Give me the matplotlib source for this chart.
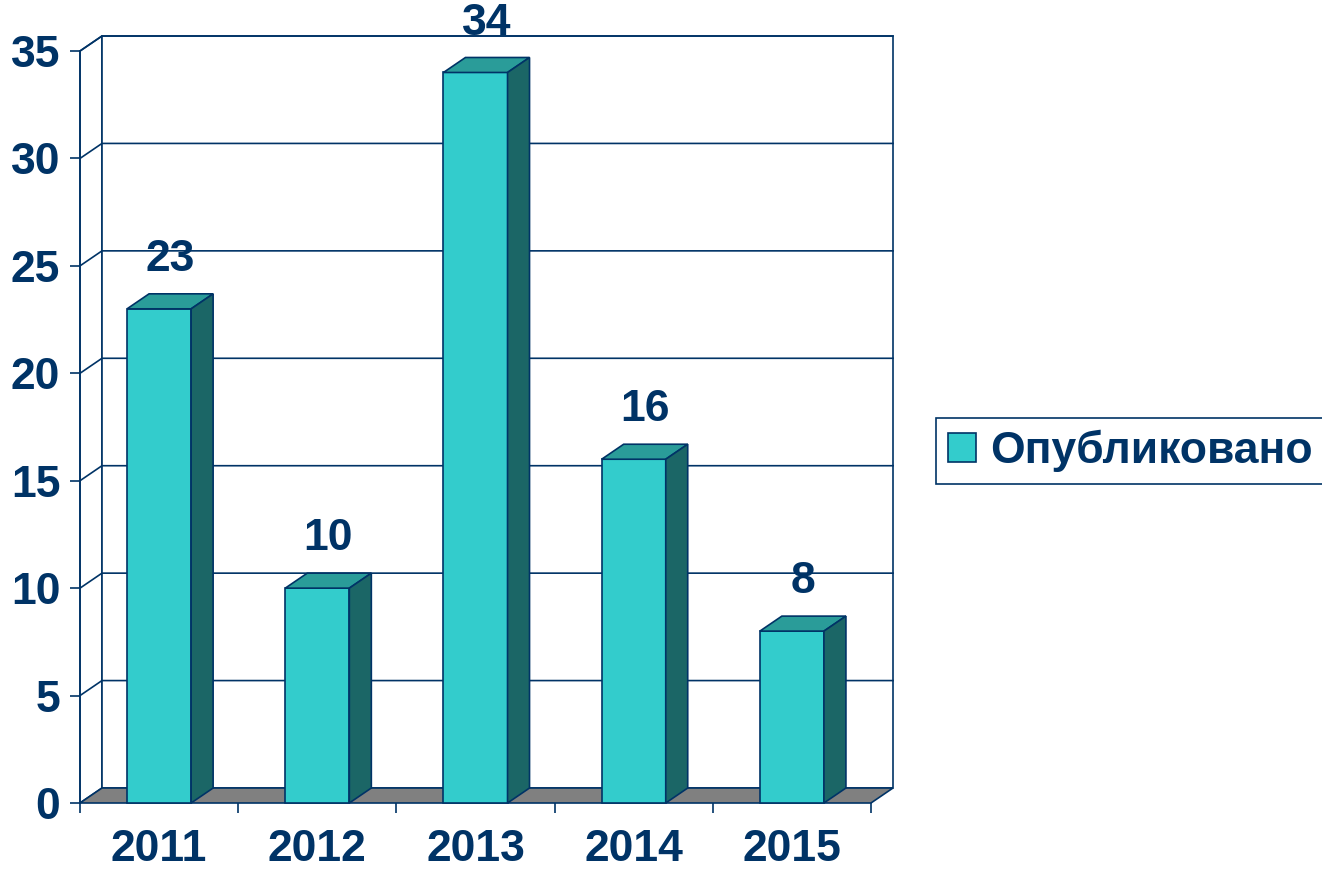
import matplotlib.pyplot as plt
from matplotlib.patches import Polygon, Patch

years = ['2011', '2012', '2013', '2014', '2015']
published = [23, 10, 34, 16, 8]
series_name = 'Опубликовано'
y_ticks = [0, 5, 10, 15, 20, 25, 30, 35]

NAVY = '#003366'
FRONT = '#33CCCC'
TOP = '#2A9C99'
SIDE = '#1B6666'
FLOOR = '#808080'

DX, DY = 0.139, 0.698   # 3d depth offset, in data units
BAR_W = 0.405
LW = 1.2
FS = 32

plt.rcParams['font.family'] = ['Liberation Sans', 'DejaVu Sans']
plt.rcParams['font.weight'] = 'bold'


def poly(ax, pts, fc, z):
    ax.add_patch(Polygon(pts, closed=True, facecolor=fc, edgecolor=NAVY,
                         lw=LW, joinstyle='miter', clip_on=False, zorder=z))


def draw_walls(ax, n, top):
    # side wall + back wall
    poly(ax, [(0, 0), (DX, DY), (DX, top + DY), (0, top)], 'white', 1)
    poly(ax, [(DX, DY), (n + DX, DY), (n + DX, top + DY), (DX, top + DY)],
         'white', 1)
    for v in y_ticks[1:]:
        ax.plot([0, DX, n + DX], [v, v + DY, v + DY], color=NAVY, lw=LW,
                clip_on=False, zorder=2)
    # floor
    poly(ax, [(0, 0), (n, 0), (n + DX, DY), (DX, DY)], FLOOR, 3)


def draw_bar(ax, x, h):
    x0, x1 = x - BAR_W / 2, x + BAR_W / 2
    poly(ax, [(x0, 0), (x1, 0), (x1, h), (x0, h)], FRONT, 5)
    poly(ax, [(x0, h), (x1, h), (x1 + DX, h + DY), (x0 + DX, h + DY)], TOP, 5)
    poly(ax, [(x1, 0), (x1 + DX, DY), (x1 + DX, h + DY), (x1, h)], SIDE, 5)


fig = plt.figure(figsize=(13.22, 8.73), dpi=100)
ax = fig.add_axes([80 / 1322, 70 / 873, 791 / 1322, 752 / 873])
n = len(years)
ax.set_xlim(0, n)
ax.set_ylim(0, 35)

draw_walls(ax, n, 35)
for i, v in enumerate(published):
    draw_bar(ax, i + 0.5, v)
    ax.text(i + 0.5 + DX / 2, v + 2.3, str(v), ha='center', va='center',
            fontsize=FS, fontweight='bold', color=NAVY, zorder=6)

for s in ['top', 'right', 'bottom']:
    ax.spines[s].set_visible(False)
ax.spines['left'].set_color(NAVY)
ax.spines['left'].set_linewidth(LW)
ax.spines['left'].set_zorder(4)
ax.patch.set_visible(False)

ax.set_yticks(y_ticks)
ax.tick_params(axis='y', direction='out', length=7.2, width=LW, color=NAVY,
               pad=7, labelsize=FS, labelcolor=NAVY)
ax.set_xticks(range(n + 1))
ax.set_xticklabels([])
ax.set_xticks([i + 0.5 for i in range(n)], minor=True)
ax.set_xticklabels(years, minor=True)
ax.tick_params(axis='x', which='major', direction='out', length=7.2,
               width=LW, color=NAVY)
ax.tick_params(axis='x', which='minor', length=0, pad=19, labelsize=FS,
               labelcolor=NAVY)

leg = fig.legend(handles=[Patch(facecolor=FRONT, edgecolor=NAVY, lw=LW,
                                label=series_name)],
                 loc='upper left', bbox_to_anchor=(936 / 1322, 1 - 418 / 873),
                 bbox_transform=fig.transFigure, borderaxespad=0,
                 fancybox=False, framealpha=1, edgecolor=NAVY,
                 prop=dict(weight='bold', size=FS), labelcolor=NAVY,
                 handlelength=0.63, handleheight=0.63, handletextpad=0.32,
                 borderpad=0.27)
leg.get_frame().set_linewidth(LW)

fig.savefig('out.png', dpi=100)
